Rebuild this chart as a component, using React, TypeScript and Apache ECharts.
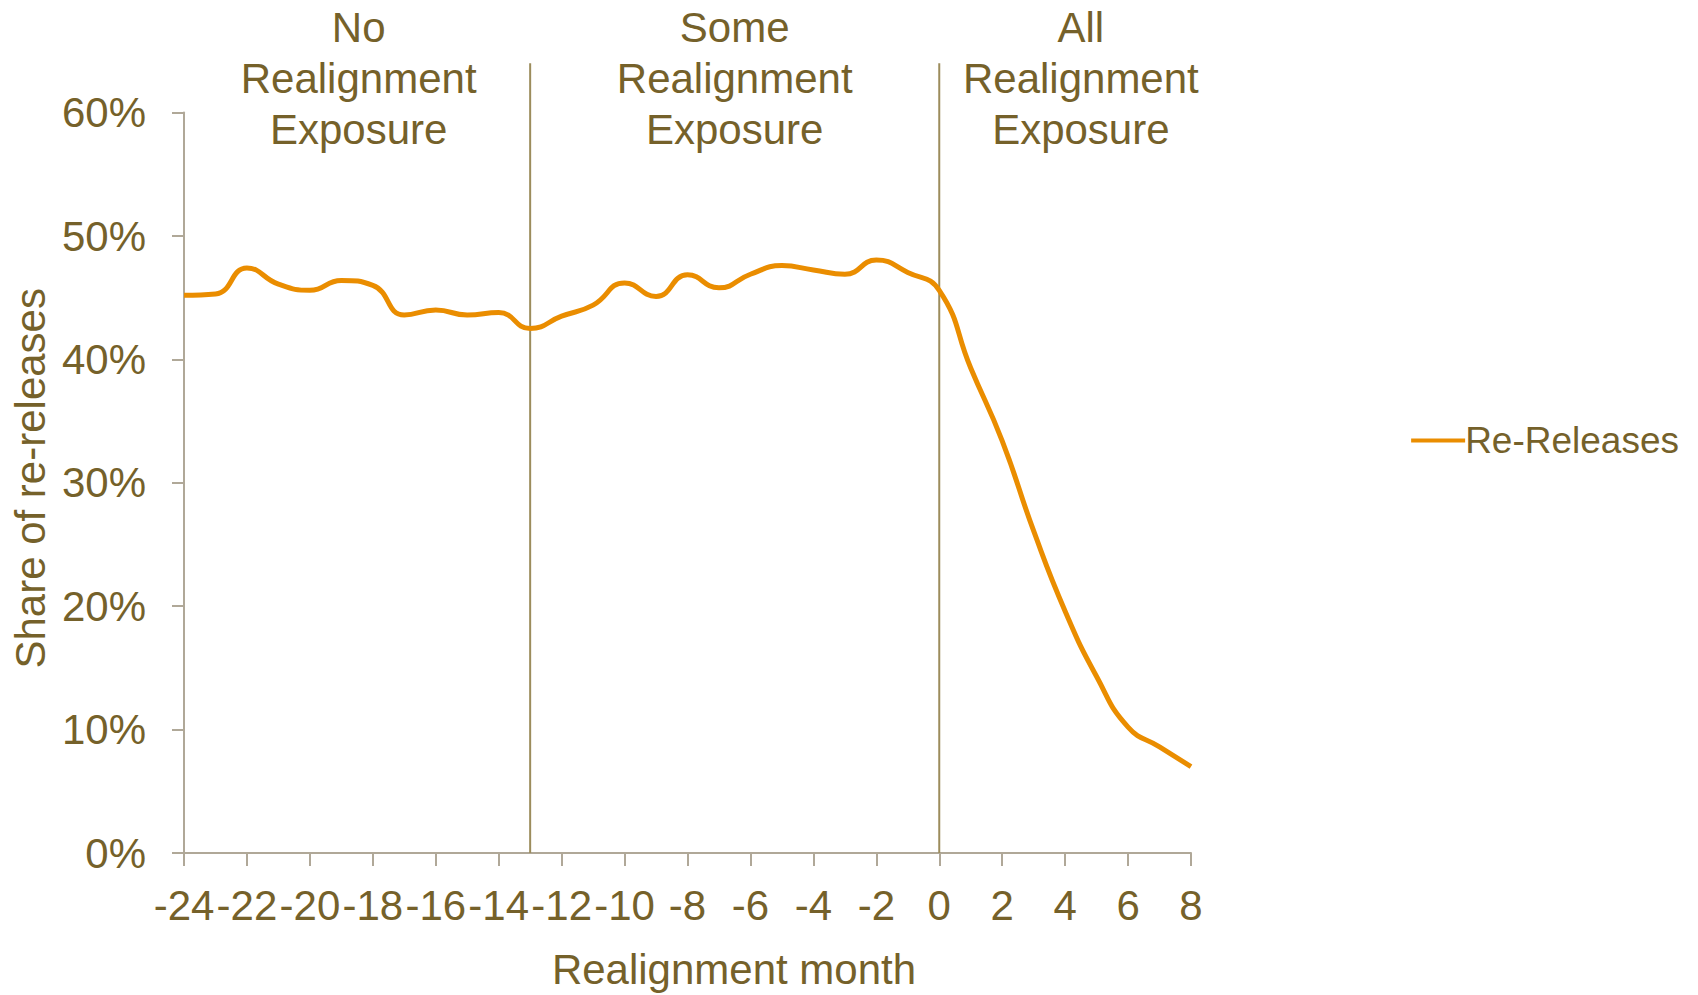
import React, { useEffect, useRef } from "react";
import * as echarts from "echarts";

const months = [-24, -23, -22, -21, -20, -19, -18, -17, -16, -15, -14, -13, -12, -11, -10, -9, -8, -7, -6, -5, -4, -3, -2, -1, 0, 1, 2, 3, 4, 5, 6, 7, 8];
const reReleases = [45.2, 45.3, 47.4, 46.1, 45.6, 46.4, 46.0, 43.6, 44.0, 43.6, 43.8, 42.5, 43.5, 44.4, 46.2, 45.1, 46.85, 45.8, 46.9, 47.6, 47.25, 46.9, 48.05, 47.05, 45.6, 39.3, 33.4, 26.1, 19.6, 14.3, 10.2, 8.6, 7.0];
const dividers = [-13, 0];
const dividerTop = 64;
const regionCenters = [-18.45, -6.5, 4.5];
const regionLabels = ["No\nRealignment\nExposure", "Some\nRealignment\nExposure", "All\nRealignment\nExposure"];
const regionLabelY = 62.75;
const yTicks = [0, 10, 20, 30, 40, 50, 60];

const TEXT = "#75612A";
const AXIS = "#B0A898";
const DIV = "#9C8C5C";
const LINE = "#EA8D00";
const FONT = "'Liberation Sans', Arial, sans-serif";

export default function App() {
  const ref = useRef<HTMLDivElement>(null);
  useEffect(() => {
    if (!ref.current) return;
    const chart = echarts.init(ref.current, null, { renderer: "svg" });
    chart.setOption({
      animation: false,
      backgroundColor: "#ffffff",
      textStyle: { fontFamily: FONT, color: TEXT },
      grid: { left: 184, right: 507, top: 112.6, bottom: 138.7, containLabel: false },
      legend: {
        data: ["Re-Releases"],
        orient: "vertical",
        right: 14,
        top: 417,
        itemWidth: 54,
        itemHeight: 4,
        itemGap: 5,
        icon: "rect",
        textStyle: { fontSize: 37, color: TEXT, fontFamily: FONT, padding: [0, 0, 0, -5] },
      },
      xAxis: {
        type: "value",
        min: -24,
        max: 8,
        interval: 2,
        name: "Realignment month",
        nameLocation: "middle",
        nameGap: 95,
        nameTextStyle: { fontSize: 42, color: TEXT, fontFamily: FONT, padding: [0, 0, 0, 93] },
        axisLine: { show: true, onZero: false, lineStyle: { color: AXIS, width: 2 } },
        axisTick: { show: true, length: 13, lineStyle: { color: AXIS, width: 2 } },
        axisLabel: { fontSize: 42, color: TEXT, margin: 31, fontFamily: FONT },
        splitLine: { show: false },
      },
      yAxis: {
        type: "value",
        min: 0,
        max: 60,
        interval: 10,
        name: "Share of re-releases",
        nameLocation: "middle",
        nameGap: 128,
        nameTextStyle: { fontSize: 42, color: TEXT, fontFamily: FONT, padding: [0, 0, 0, 9] },
        axisLine: { show: true, onZero: false, lineStyle: { color: AXIS, width: 2 } },
        axisTick: { show: true, length: 12, lineStyle: { color: AXIS, width: 2 } },
        axisLabel: { fontSize: 42, color: TEXT, margin: 38, fontFamily: FONT, formatter: (v: number) => (yTicks.includes(v) ? v + "%" : "") },
        splitLine: { show: false },
      },
      series: [
        {
          name: "dividers",
          type: "custom",
          silent: true,
          z: 1,
          data: dividers.map((d) => [d]),
          renderItem: (params: any, api: any) => {
            const x = api.value(0);
            const p0 = api.coord([x, 0]);
            const p1 = api.coord([x, dividerTop]);
            return {
              type: "line",
              shape: { x1: p0[0], y1: p0[1], x2: p1[0], y2: p1[1] },
              style: { stroke: DIV, lineWidth: 2 },
            };
          },
        },
        {
          name: "regions",
          type: "custom",
          silent: true,
          z: 1,
          data: regionCenters.map((c, i) => [c, regionLabelY, i]),
          renderItem: (params: any, api: any) => {
            const p = api.coord([api.value(0), api.value(1)]);
            const idx = api.value(2);
            return {
              type: "text",
              x: p[0],
              y: p[1],
              style: {
                text: regionLabels[idx],
                fill: TEXT,
                fontSize: 42,
                fontFamily: FONT,
                align: "center",
                verticalAlign: "middle",
                lineHeight: 51,
              },
            };
          },
        },
        {
          name: "Re-Releases",
          type: "line",
          z: 3,
          data: months.map((m, i) => [m, reReleases[i]]),
          smooth: 0.5,
          symbol: "none",
          lineStyle: { color: LINE, width: 5 },
          itemStyle: { color: LINE },
        },
      ],
    });
    return () => chart.dispose();
  }, []);
  return <div ref={ref} style={{ position: "absolute", left: 0, top: 0, width: 1698, height: 995 }} />;
}
